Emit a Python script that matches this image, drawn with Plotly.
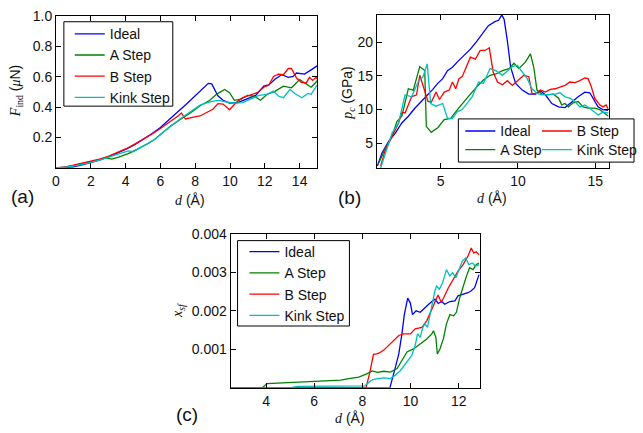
import plotly.graph_objects as go

# ---------------- (a) indentation force F_ind (uN) vs depth d (A) ----------------
a_ideal_d = [0, 0.5, 1, 1.5, 2, 2.5, 3, 3.5, 4, 4.5, 5, 5.5, 6, 6.5, 7, 7.5, 8, 8.4, 8.75, 8.95,
             9.3, 9.6, 9.97, 10.44, 10.91, 11.47, 11.94, 12.22, 12.6, 12.97, 13.35, 13.63, 13.82,
             14.28, 14.66, 15]
a_ideal_F = [0, 0.002, 0.008, 0.02, 0.035, 0.052, 0.073, 0.097, 0.122, 0.152, 0.187, 0.225, 0.266,
             0.315, 0.37, 0.42, 0.475, 0.515, 0.556, 0.553, 0.475, 0.445, 0.426, 0.43, 0.452, 0.477,
             0.538, 0.546, 0.585, 0.613, 0.596, 0.602, 0.624, 0.617, 0.645, 0.671]

a_astep_d = [0, 0.5, 1, 1.5, 2, 2.5, 2.84, 3.2, 3.6, 4.15, 4.53, 5.0, 5.28, 5.7, 6.03, 6.6, 7.16,
             7.72, 8.28, 8.84, 9.22, 9.69, 9.97, 10.25, 10.63, 11.0, 11.38, 11.75, 12.13, 12.6,
             13.07, 13.53, 14.0, 14.38, 14.66, 14.94, 15]
a_astep_F = [0, 0.005, 0.015, 0.027, 0.04, 0.055, 0.067, 0.058, 0.072, 0.094, 0.116, 0.14, 0.159,
             0.19, 0.224, 0.277, 0.32, 0.361, 0.409, 0.445, 0.484, 0.516, 0.495, 0.445, 0.452,
             0.477, 0.473, 0.445, 0.484, 0.505, 0.538, 0.527, 0.581, 0.555, 0.531, 0.563, 0.575]

a_bstep_d = [0, 0.5, 1, 1.5, 2, 2.5, 3, 3.5, 4, 4.5, 5, 5.5, 6, 6.5, 6.8, 7.05, 7.2, 7.44, 7.9,
             8.28, 8.66, 9.03, 9.31, 9.6, 9.97, 10.35, 10.72, 11.1, 11.56, 11.94, 12.22, 12.5,
             12.78, 13.07, 13.35, 13.53, 13.82, 14.1, 14.38, 14.57, 14.75, 14.94, 15]
a_bstep_F = [0, 0.006, 0.018, 0.03, 0.043, 0.058, 0.077, 0.1, 0.125, 0.155, 0.188, 0.222, 0.26,
             0.3, 0.325, 0.345, 0.362, 0.322, 0.335, 0.342, 0.365, 0.388, 0.423, 0.42, 0.383,
             0.43, 0.462, 0.477, 0.495, 0.531, 0.544, 0.602, 0.617, 0.613, 0.654, 0.654, 0.591,
             0.563, 0.559, 0.596, 0.576, 0.596, 0.585]

a_kink_d = [0, 0.5, 1, 1.5, 2, 2.5, 3, 3.5, 4.15, 4.44, 4.8, 5.28, 5.7, 6.03, 6.6, 7.16, 7.72,
            8.28, 8.84, 9.31, 9.78, 10.25, 10.72, 11.19, 11.66, 12.13, 12.5, 12.78, 13.07, 13.44,
            13.72, 14.13, 14.47, 14.66, 14.94, 15]
a_kink_F = [0, 0.004, 0.013, 0.024, 0.037, 0.052, 0.07, 0.09, 0.112, 0.107, 0.13, 0.159, 0.19,
            0.224, 0.277, 0.325, 0.37, 0.413, 0.434, 0.445, 0.434, 0.426, 0.43, 0.452, 0.477,
            0.484, 0.505, 0.473, 0.462, 0.516, 0.49, 0.462, 0.49, 0.484, 0.538, 0.545]

# ---------------- (b) critical pressure p_c (GPa) vs depth d (A) ----------------
b_ideal_d = [0.92, 1.23, 1.66, 2.08, 2.5, 2.92, 3.34, 3.77, 4.19, 4.5, 4.82, 5.14, 5.45, 5.77,
             6.09, 6.51, 6.93, 7.35, 7.77, 8.09, 8.51, 8.75, 8.96, 9.11, 9.32, 9.53, 9.85, 10.28,
             10.7, 11.13, 11.45, 11.77, 12.19, 12.62, 13.04, 13.26, 13.57, 13.89, 14.32, 14.64,
             14.85, 15.17, 15.49, 15.82]
b_ideal_p = [1.6, 3.6, 5.3, 6.5, 8.0, 9.0, 10.2, 11.2, 12.3, 13.0, 13.9, 14.6, 15.8, 16.3, 17.1,
             18.0, 19.0, 20.2, 21.5, 22.5, 23.1, 23.3, 24.1, 23.4, 20.2, 16.3, 13.9, 12.9, 12.3,
             12.3, 12.8, 12.2, 10.9, 10.4, 10.3, 10.7, 11.4, 11.9, 12.6, 12.5, 11.7, 10.4, 10.0,
             9.9]

b_astep_d = [1.02, 1.45, 1.87, 2.18, 2.5, 2.92, 3.24, 3.66, 3.98, 4.08, 4.4, 4.82, 5.24, 5.66,
             6.09, 6.51, 6.93, 7.35, 7.77, 8.2, 8.57, 9.0, 9.43, 9.74, 10.06, 10.49, 10.81, 11.02,
             11.23, 11.55, 11.87, 12.3, 12.62, 12.83, 13.04, 13.26, 13.57, 13.89, 14.21, 14.53,
             14.96, 15.28, 15.6, 15.85]
b_astep_p = [2.1, 4.3, 6.0, 8.2, 9.0, 13.1, 12.9, 16.4, 15.8, 7.5, 6.6, 7.3, 8.5, 8.7, 10.0, 11.2,
             12.3, 13.4, 14.4, 15.1, 15.3, 15.8, 16.1, 16.9, 16.1, 17.1, 18.3, 16.3, 12.9, 12.3,
             12.2, 12.3, 11.7, 10.7, 10.9, 10.4, 11.0, 11.2, 10.4, 10.2, 10.2, 10.0, 9.5, 9.0]

b_bstep_d = [1.13, 1.45, 1.87, 2.29, 2.5, 2.71, 3.13, 3.45, 3.66, 3.98, 4.19, 4.4, 4.71, 4.93,
             5.24, 5.56, 5.77, 5.98, 6.19, 6.4, 6.72, 6.93, 7.25, 7.56, 7.88, 8.15, 8.4, 8.68, 9.0,
             9.32, 9.64, 10.06, 10.38, 10.7, 10.91, 11.13, 11.45, 11.77, 12.09, 12.4, 12.72, 13.04,
             13.36, 13.68, 14.0, 14.32, 14.53, 14.74, 14.96, 15.28, 15.49, 15.7, 15.85]
b_bstep_p = [1.6, 4.1, 6.0, 8.0, 9.6, 9.5, 11.9, 12.2, 15.1, 12.6, 11.2, 11.1, 12.6, 11.5, 12.6,
             12.9, 14.1, 13.1, 14.6, 14.9, 16.8, 17.8, 17.5, 18.8, 18.8, 19.2, 15.6, 14.1, 13.7,
             14.3, 13.6, 14.4, 15.1, 14.9, 12.4, 12.3, 12.9, 12.6, 13.0, 13.1, 13.4, 13.6, 14.1,
             14.0, 14.3, 14.7, 14.6, 13.4, 11.7, 10.7, 10.4, 10.7, 10.0]

b_kink_d = [1.13, 1.45, 1.87, 2.29, 2.71, 3.13, 3.55, 3.87, 4.14, 4.36, 4.71, 5.14, 5.45, 5.77,
            6.09, 6.4, 6.72, 7.04, 7.46, 7.77, 8.2, 8.57, 9.0, 9.32, 9.64, 9.96, 10.28, 10.6,
            10.91, 11.23, 11.55, 11.98, 12.4, 12.72, 13.04, 13.36, 13.68, 14.0, 14.32, 14.64,
            14.96, 15.17, 15.49, 15.85]
b_kink_p = [1.3, 3.6, 6.5, 8.0, 12.2, 11.9, 14.1, 14.9, 16.8, 10.9, 10.5, 10.9, 8.7, 8.7, 9.7,
            10.0, 10.9, 11.9, 14.1, 13.9, 16.1, 15.8, 15.1, 15.8, 16.4, 16.6, 15.6, 14.6, 13.1,
            12.4, 12.2, 12.2, 12.3, 12.5, 11.9, 11.7, 11.2, 10.4, 10.7, 10.2, 9.6, 9.2, 9.6, 9.5]

# ---------------- (c) stacking-fault fraction x_sf vs depth d (A) ----------------
c_ideal_d = [2.5, 9.14, 9.37, 9.51, 9.64, 9.74, 9.88, 9.99, 10.08, 10.23, 10.4, 10.6, 10.81,
             11.01, 11.15, 11.29, 11.42, 11.63, 11.84, 11.97, 12.18, 12.38, 12.52, 12.66, 12.84]
c_ideal_x = [0, 0, 0.00054, 0.00088, 0.0014, 0.0019, 0.00233, 0.0022, 0.0019, 0.002, 0.00196,
             0.00209, 0.0022, 0.0023, 0.00219, 0.00224, 0.00217, 0.00224, 0.00226, 0.00239,
             0.00243, 0.00247, 0.00252, 0.0026, 0.00294]

c_astep_d = [2.5, 3.84, 4.04, 5.13, 6.48, 7.1, 7.44, 7.85, 8.2, 8.41, 8.62, 8.89, 9.16, 9.44,
             9.64, 9.85, 10.12, 10.4, 10.67, 10.88, 10.95, 11.05, 11.11, 11.22, 11.36, 11.49,
             11.63, 11.79, 11.9, 12.04, 12.18, 12.32, 12.45, 12.59, 12.73, 12.84]
c_astep_x = [0, 0, 0.00011, 0.00014, 0.00017, 0.0002, 0.00024, 0.00028, 0.00037, 0.00044,
             0.0004, 0.00043, 0.00041, 0.0005, 0.00071, 0.00093, 0.00101, 0.00114, 0.00127,
             0.0014, 0.00148, 0.00131, 0.00088, 0.00101, 0.00127, 0.00166, 0.0019, 0.00187,
             0.00196, 0.00234, 0.00264, 0.0029, 0.00312, 0.00307, 0.0032, 0.00324]

c_bstep_d = [2.5, 8.15, 8.3, 8.46, 8.59, 8.68, 8.89, 9.1, 9.3, 9.51, 9.71, 9.99, 10.19, 10.47,
             10.67, 10.88, 11.05, 11.14, 11.27, 11.36, 11.57, 11.77, 11.97, 12.18, 12.38, 12.52,
             12.62, 12.73, 12.84]
c_bstep_x = [0, 0, 0.00038, 0.00087, 0.00088, 0.0009, 0.00098, 0.0011, 0.00123, 0.00136,
             0.0014, 0.0014, 0.00153, 0.00157, 0.00174, 0.00204, 0.00226, 0.00241, 0.00222,
             0.00232, 0.0026, 0.00282, 0.00303, 0.0032, 0.00342, 0.00363, 0.0035, 0.00353,
             0.00345]

c_kink_d = [2.5, 5.0, 5.3, 8.1, 8.2, 8.41, 8.62, 8.89, 9.16, 9.37, 9.58, 9.74, 9.92, 10.05,
            10.19, 10.29, 10.4, 10.51, 10.6, 10.7, 10.81, 10.92, 11.01, 11.08, 11.19, 11.33,
            11.49, 11.63, 11.74, 11.88, 12.01, 12.15, 12.29, 12.42, 12.56, 12.7, 12.84]
c_kink_x = [0, 0, 0.00004, 0.00005, 0.00011, 0.00021, 0.00024, 0.00026, 0.00024, 0.00033,
            0.00045, 0.00058, 0.00071, 0.00084, 0.0011, 0.0014, 0.00131, 0.00157, 0.00166,
            0.00157, 0.00191, 0.00226, 0.00252, 0.00264, 0.00256, 0.00273, 0.00307, 0.0029,
            0.00299, 0.00286, 0.00307, 0.00329, 0.00337, 0.0032, 0.00324, 0.00316, 0.0032]

names = ["Ideal", "A Step", "B Step", "Kink Step"]
colors = ["#0000ff", "#008000", "#ff0000", "#00bfbf"]

a_ticks_x = [0, 2, 4, 6, 8, 10, 12, 14]
a_ticks_y = [0.2, 0.4, 0.6, 0.8, 1.0]
b_ticks_x = [5, 10, 15]
b_ticks_y = [5, 10, 15, 20]
c_ticks_x = [4, 6, 8, 10, 12]
c_ticks_y = [0.001, 0.002, 0.003, 0.004]

W, H = 643, 433
SANS = "Liberation Sans, Arial, sans-serif"
SERIF = "Liberation Serif, DejaVu Serif, serif"
LW = 1.3
ROW = 15.6  # offset from a legend's top edge to the centre of its first entry

fig = go.Figure()

# panel (b) uses one legend per entry so its two columns can be placed freely
panels = [
    ("x", "y", [(a_ideal_d, a_ideal_F), (a_astep_d, a_astep_F), (a_bstep_d, a_bstep_F), (a_kink_d, a_kink_F)],
     ["legend", "legend", "legend", "legend"]),
    ("x2", "y2", [(b_ideal_d, b_ideal_p), (b_astep_d, b_astep_p), (b_bstep_d, b_bstep_p), (b_kink_d, b_kink_p)],
     ["legend2", "legend3", "legend4", "legend5"]),
    ("x3", "y3", [(c_ideal_d, c_ideal_x), (c_astep_d, c_astep_x), (c_bstep_d, c_bstep_x), (c_kink_d, c_kink_x)],
     ["legend6", "legend6", "legend6", "legend6"]),
]
for xa, ya, series, legs in panels:
    for (xs, ys), name, col, leg in zip(series, names, colors, legs):
        fig.add_trace(go.Scatter(x=xs, y=ys, mode="lines", name=name, xaxis=xa, yaxis=ya,
                                 line=dict(color=col, width=LW), legend=leg))


def px_x(p):
    return p / W


def px_y(p):
    return 1 - p / H


axis_common = dict(showline=True, linecolor="black", linewidth=1, mirror="ticks",
                   ticks="inside", ticklen=5, tickwidth=1, tickcolor="black",
                   showgrid=False, zeroline=False,
                   tickfont=dict(family=SANS, size=14, color="#111"))

fig.update_layout(
    width=W, height=H, margin=dict(l=0, r=0, t=0, b=0),
    paper_bgcolor="white", plot_bgcolor="white",
    xaxis=dict(domain=[px_x(53), px_x(319)], range=[0, 15], tickvals=a_ticks_x,
               anchor="y", **axis_common),
    yaxis=dict(domain=[px_y(163), px_y(8)], range=[0, 1.0], tickvals=a_ticks_y,
               tickformat=".1f", anchor="x", **axis_common),
    xaxis2=dict(domain=[px_x(380), px_x(616)], range=[0.89, 15.85], tickvals=b_ticks_x,
                anchor="y2", **axis_common),
    yaxis2=dict(domain=[px_y(163), px_y(7)], range=[1.3, 24.1], tickvals=b_ticks_y,
                anchor="x2", **axis_common),
    xaxis3=dict(domain=[px_x(231), px_x(485)], range=[2.53, 12.88], tickvals=c_ticks_x,
                anchor="y3", **axis_common),
    yaxis3=dict(domain=[px_y(387), px_y(230)], range=[0, 0.004], tickvals=c_ticks_y,
                tickformat=".3f", anchor="x3", **axis_common),
)

leg_font = dict(family=SANS, size=14, color="#111")


def legend_at(text_left, first_row):
    # entry text starts 40 px right of the legend's left edge
    return dict(x=px_x(text_left - 40), y=px_y(first_row - ROW), xanchor="left", yanchor="top",
                font=leg_font, bgcolor="rgba(0,0,0,0)", borderwidth=0)


fig.update_layout(
    legend=legend_at(107, 26),
    legend2=legend_at(505, 125),
    legend3=legend_at(505, 144),
    legend4=legend_at(583, 125),
    legend5=legend_at(583, 144),
    legend6=legend_at(285, 248),
)

# white legend frames (drawn over the curves, under the legend entries)
for x0, x1, y0, y1 in [(61, 172, 14, 100), (463, 642, 113, 157), (238, 352, 237, 324)]:
    fig.add_shape(type="rect", xref="paper", yref="paper",
                  x0=px_x(x0), x1=px_x(x1), y0=px_y(y1), y1=px_y(y0),
                  line=dict(color="black", width=1), fillcolor="white", layer="above")


def d_label(s):
    return f'<span style="font-family:{SERIF}"><i>{s}</i></span> (Å)'


texts = [
    (190, 196, d_label("d"), 0, 14),
    (497, 194, d_label("d"), 0, 14),
    (353, 418, d_label("d"), 0, 14),
    (13, 85, f'<span style="font-family:{SERIF}"><i>F</i><sub>ind</sub></span> (<span style="font-family:{SERIF}"><i>μ</i></span>N)', -90, 14),
    (351, 86, f'<span style="font-family:{SERIF}"><i>p<sub>c</sub></i></span> (GPa)', -90, 14),
    (178, 308, f'<span style="font-family:{SERIF}"><i>x<sub>sf</sub></i></span>', -90, 14),
    (19, 192, "(a)", 0, 19),
    (352, 193, "(b)", 0, 19),
    (186, 414, "(c)", 0, 19),
]
for x, y, t, ang, sz in texts:
    fig.add_annotation(x=px_x(x), y=px_y(y), xref="paper", yref="paper", text=t,
                       showarrow=False, textangle=ang, xanchor="center", yanchor="middle",
                       font=dict(family=SANS, size=sz, color="#111"))

fig.write_html("out.html")
